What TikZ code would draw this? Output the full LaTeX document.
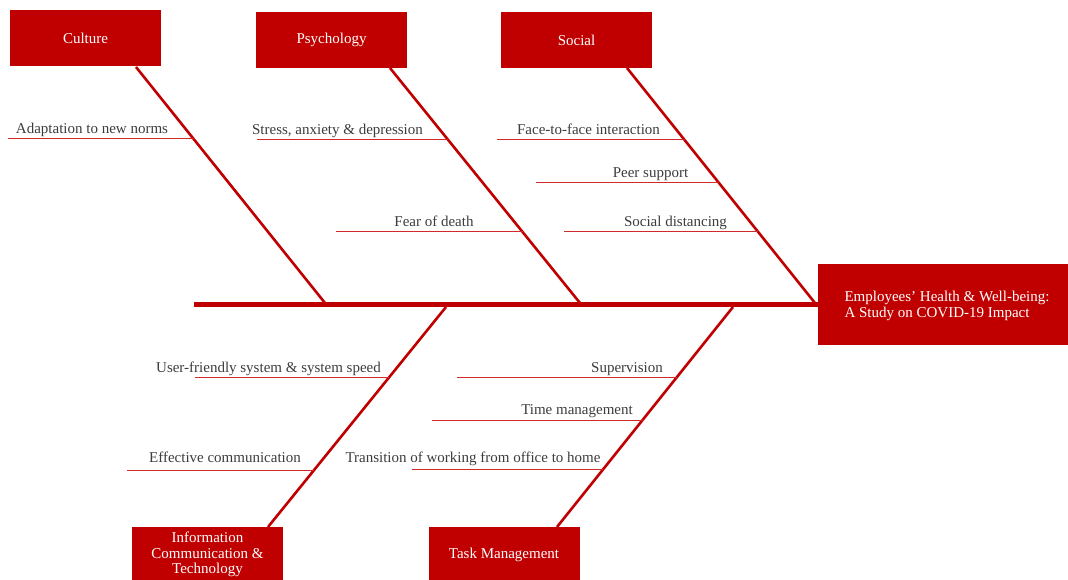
\documentclass[tikz,border=0pt]{standalone}
\usepackage{fontspec}
\setmainfont{Liberation Serif}
\definecolor{bonered}{HTML}{C00000}
\definecolor{subred}{HTML}{D22A2A}
\definecolor{txtgray}{HTML}{3C3C3C}
\begin{document}
\begin{tikzpicture}[x=1pt,y=-1pt,
  catbox/.style={fill=bonered, draw=none, text=white, minimum width=151pt, minimum height=56pt, inner sep=0pt, align=center, font=\fontsize{15}{15.5}\selectfont},
  effbox/.style={fill=bonered, draw=none, text=white, minimum width=250pt, minimum height=81pt, inner sep=0pt, align=left, font=\fontsize{15}{15.5}\selectfont},
  bone/.style={draw=bonered, line width=2.6pt},
  spine/.style={draw=bonered, line width=5pt},
  sub/.style={draw=subred, line width=1pt},
  lbl/.style={text=txtgray, anchor=base, inner sep=0pt, font=\fontsize{15}{15}\selectfont}]
\useasboundingbox (0,0) rectangle (1068,580);

% category and effect boxes
\node[catbox] (culture) at (85.5,38) {Culture};
\node[catbox] (psych) at (331.5,40) {Psychology};
\node[catbox] (social) at (576.5,40) {Social};
\node[catbox] (ict) at (207.5,554.5) {Information\\Communication \&\\Technology};
\node[catbox] (task) at (504,554.5) {Task Management};
\node[effbox] (effect) at (943,304.5) {};
\node[text=white, align=left, inner sep=0pt, font=\fontsize{15}{15.5}\selectfont] (efftext) at (947,306) {Employees’ Health \& Well-being:\\A Study on COVID-19 Impact};

% spine
\coordinate (tail) at (194,304);
\draw[spine] (tail) -- (tail -| effect.west);

% bone end points
\coordinate (cTop) at (136,67);  \coordinate (cJ) at (325,303);
\coordinate (pTop) at (390,68);  \coordinate (pJ) at (580,303);
\coordinate (sTop) at (627,68);  \coordinate (sJ) at (815,303);
\coordinate (iTop) at (446,307); \coordinate (iBot) at (268,527);
\coordinate (tTop) at (733,307); \coordinate (tBot) at (557,527);

\draw[bone] (cTop) -- (cJ);
\draw[bone] (pTop) -- (pJ);
\draw[bone] (sTop) -- (sJ);
\draw[bone] (iTop) -- (iBot);
\draw[bone] (tTop) -- (tBot);

% sub-causes: lines
\coordinate (a1) at (8,139);   \coordinate (a2) at (193.7,139);
\coordinate (b1) at (257,140); \coordinate (b2) at (448.2,140);
\coordinate (f1) at (336,232); \coordinate (f2) at (522.6,232);
\coordinate (g1) at (497,140); \coordinate (g2) at (684.6,140);
\coordinate (h1) at (536,183); \coordinate (h2) at (719,183);
\coordinate (k1) at (564,232); \coordinate (k2) at (758.2,232);
\coordinate (u1) at (195,377); \coordinate (u2) at (389.4,377);
\coordinate (e1) at (127,470); \coordinate (e2) at (314.1,470);
\coordinate (v1) at (457,377); \coordinate (v2) at (677,377);
\coordinate (m1) at (432,420); \coordinate (m2) at (642.6,420);
\coordinate (w1) at (412,469); \coordinate (w2) at (603.4,469);

\foreach \p in {a,b,f,g,h,k,u,e,v,m,w} { \draw[sub] (\p1) -- (\p2); }

% sub-causes: labels
\node[lbl] (la) at (92,134) {Adaptation to new norms};
\node[lbl] (lb) at (337.5,135) {Stress, anxiety \& depression};
\node[lbl] (lf) at (434,226) {Fear of death};
\node[lbl] (lg) at (588.5,135) {Face-to-face interaction};
\node[lbl] (lh) at (650.5,178) {Peer support};
\node[lbl] (lk) at (675.5,226) {Social distancing};
\node[lbl] (lu) at (268.5,372) {User-friendly system \& system speed};
\node[lbl] (le) at (225,462) {Effective communication};
\node[lbl] (lv) at (627,372) {Supervision};
\node[lbl] (lm) at (577,414.5) {Time management};
\node[lbl] (lw) at (473,462) {Transition of working from office to home};
\end{tikzpicture}
\end{document}
